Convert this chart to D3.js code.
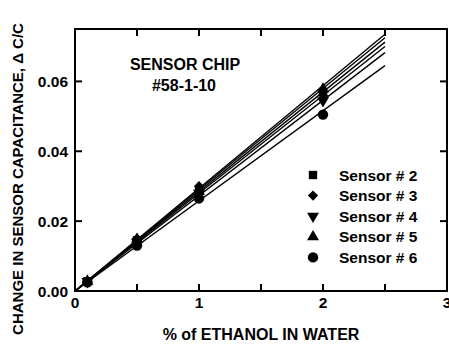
<!DOCTYPE html>
<html>
<head>
<meta charset="utf-8">
<script src="https://cdn.jsdelivr.net/npm/d3@7"></script>
<style>
  body { margin: 0; background: #fff; }
  text { font-family: "Liberation Sans", Arial, sans-serif; font-weight: bold; fill: #000; }
</style>
</head>
<body>
<svg width="449" height="346"></svg>
<script>
// data
var concentrations = [0.1, 0.5, 1, 2];
var sensorNames = ["Sensor # 2", "Sensor # 3", "Sensor # 4", "Sensor # 5", "Sensor # 6"];
var sensorSymbols = ["square", "diamond", "triangleDown", "triangleUp", "circle"];
var sensor2 = [0.0028, 0.0145, 0.0290, 0.0570];
var sensor3 = [0.0028, 0.0150, 0.0300, 0.0560];
var sensor4 = [0.0027, 0.0140, 0.0280, 0.0545];
var sensor5 = [0.0028, 0.0148, 0.0285, 0.0578];
var sensor6 = [0.0025, 0.0130, 0.0265, 0.0505];
var fitSlopes = [0.0294, 0.0290, 0.0285, 0.0280, 0.0273, 0.0258];
var fitRange = [0, 2.5];
var xTicks = [0, 0.5, 1, 1.5, 2, 2.5, 3];
var xLabels = [0, 1, 2, 3];
var yTicks = [0, 0.02, 0.04, 0.06];

var allSensors = [sensor2, sensor3, sensor4, sensor5, sensor6];

// set the dimensions and margins of the graph
var margin = {top: 29, right: 2, bottom: 55, left: 75},
    width = 449 - margin.left - margin.right,
    height = 346 - margin.top - margin.bottom;

var xScale = d3.scaleLinear().domain([0, 3]).range([0, width]);
var yScale = d3.scaleLinear().domain([0, 0.075]).range([height, 0]);

var svg = d3.select("svg")
  .append("g")
    .attr("transform", "translate(" + margin.left + "," + margin.top + ")");

// fit lines
var fitLine = d3.line()
    .x(function(d) { return xScale(d[0]); })
    .y(function(d) { return yScale(d[1]); });

fitSlopes.forEach(function(s) {
  svg.append("path")
      .attr("d", fitLine(fitRange.map(function(x) { return [x, s * x]; })))
      .style("fill", "none")
      .style("stroke", "#000")
      .style("stroke-width", 1.4);
});

// marker shapes
var symbolTypes = {
  square: d3.symbolSquare,
  diamond: d3.symbolSquare,
  triangleDown: d3.symbolTriangle,
  triangleUp: d3.symbolTriangle,
  circle: d3.symbolCircle
};
var symbolSizes = { square: 70, diamond: 52, triangleDown: 62, triangleUp: 62, circle: 85 };
var symbolRotate = { square: 0, diamond: 45, triangleDown: 180, triangleUp: 0, circle: 0 };

function marker(sel, type) {
  sel.attr("d", d3.symbol().type(symbolTypes[type]).size(symbolSizes[type])())
     .style("fill", "#000");
}

allSensors.forEach(function(vals, i) {
  var type = sensorSymbols[i];
  vals.forEach(function(v, j) {
    svg.append("path")
        .call(marker, type)
        .attr("transform", "translate(" + xScale(concentrations[j]) + "," + yScale(v) + ")" +
              " rotate(" + symbolRotate[type] + ")");
  });
});

// frame
svg.append("rect")
    .attr("width", width)
    .attr("height", height)
    .style("fill", "none")
    .style("stroke", "#000")
    .style("stroke-width", 2);

// inward ticks
var tickLen = 7;
xTicks.forEach(function(t) {
  svg.append("line").attr("x1", xScale(t)).attr("x2", xScale(t))
      .attr("y1", height).attr("y2", height - tickLen)
      .style("stroke", "#000").style("stroke-width", 2);
  svg.append("line").attr("x1", xScale(t)).attr("x2", xScale(t))
      .attr("y1", 0).attr("y2", tickLen)
      .style("stroke", "#000").style("stroke-width", 2);
});
yTicks.forEach(function(t) {
  svg.append("line").attr("x1", 0).attr("x2", tickLen)
      .attr("y1", yScale(t)).attr("y2", yScale(t))
      .style("stroke", "#000").style("stroke-width", 2);
  svg.append("line").attr("x1", width).attr("x2", width - tickLen)
      .attr("y1", yScale(t)).attr("y2", yScale(t))
      .style("stroke", "#000").style("stroke-width", 2);
});

// tick labels
xLabels.forEach(function(t) {
  svg.append("text")
      .attr("x", xScale(t))
      .attr("y", height + 17)
      .attr("text-anchor", "middle")
      .style("font-size", "15.5px")
      .text(t);
});
yTicks.forEach(function(t) {
  svg.append("text")
      .attr("x", -7)
      .attr("y", yScale(t))
      .attr("dy", "0.36em")
      .attr("text-anchor", "end")
      .style("font-size", "15.5px")
      .text(d3.format(".2f")(t));
});

// axis titles
svg.append("text")
    .attr("x", width / 2)
    .attr("y", height + 49)
    .attr("text-anchor", "middle")
    .style("font-size", "16px")
    .text("% of ETHANOL IN WATER");

svg.append("text")
    .attr("transform", "translate(-52," + (height / 2 + 19) + ") rotate(-90)")
    .attr("text-anchor", "middle")
    .style("font-size", "15px")
    .text("CHANGE IN SENSOR CAPACITANCE, \u0394 C/C");

// chip label
svg.append("text")
    .attr("x", 110)
    .attr("y", 41)
    .attr("text-anchor", "middle")
    .style("font-size", "16px")
    .text("SENSOR CHIP");
svg.append("text")
    .attr("x", 109)
    .attr("y", 62)
    .attr("text-anchor", "middle")
    .style("font-size", "16px")
    .text("#58-1-10");

// legend
var legend = svg.append("g").attr("transform", "translate(238,146)");
sensorNames.forEach(function(name, i) {
  var type = sensorSymbols[i];
  legend.append("path")
      .call(marker, type)
      .attr("transform", "translate(0," + (i * 20.6) + ") rotate(" + symbolRotate[type] + ")");
  legend.append("text")
      .attr("x", 26)
      .attr("y", i * 20.6)
      .attr("dy", "0.36em")
      .style("font-size", "15.5px")
      .text(name);
});
</script>
</body>
</html>
